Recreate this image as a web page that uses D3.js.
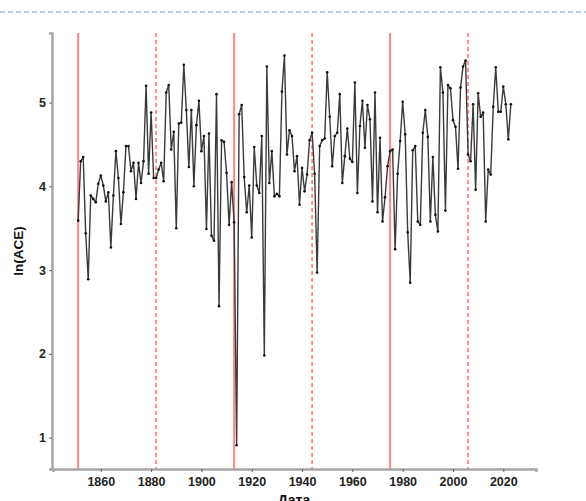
<!DOCTYPE html>
<html>
<head>
<meta charset="utf-8">
<script src="https://cdn.jsdelivr.net/npm/d3@7"></script>
<style>
  body { margin: 0; background: #fff; }
  text { font-family: "Liberation Sans", Arial, sans-serif; font-weight: bold; }
</style>
</head>
<body>
<div id="chart"></div>
<script>
// ln(ACE) per year
var years = d3.range(1851, 2024);
var lnAce = [
  3.59, 4.30, 4.35, 3.44, 2.89, 3.89, 3.85, 3.81, 4.03, 4.13, // 1851-1860
  4.01, 3.82, 3.93, 3.27, 3.89, 4.42, 4.10, 3.55, 3.93, 4.48, // 1861-1870
  4.48, 4.18, 4.28, 3.85, 4.28, 4.04, 4.30, 5.20, 4.15, 4.88, // 1871-1880
  4.10, 4.10, 4.20, 4.28, 4.06, 5.12, 5.21, 4.44, 4.65, 3.50, // 1881-1890
  4.75, 4.76, 5.45, 4.91, 4.23, 4.91, 4.00, 4.73, 5.02, 4.42, // 1891-1900
  4.60, 3.49, 4.63, 3.41, 3.35, 5.10, 2.57, 4.55, 4.53, 4.16, // 1901-1910
  3.54, 4.05, 3.57, 0.91, 4.86, 4.97, 4.11, 3.69, 4.01, 3.39, // 1911-1920
  4.47, 4.01, 3.92, 4.60, 1.98, 5.43, 4.04, 4.42, 3.88, 3.91, // 1921-1930
  3.88, 5.13, 5.56, 4.38, 4.67, 4.60, 4.18, 4.36, 3.78, 4.22, // 1931-1940
  3.94, 4.14, 4.55, 4.64, 4.15, 2.97, 4.48, 4.55, 4.57, 5.36, // 1941-1950
  4.83, 4.24, 4.60, 4.64, 5.10, 4.04, 4.36, 4.69, 4.33, 4.29, // 1951-1960
  5.24, 3.92, 4.72, 5.02, 4.46, 4.97, 4.80, 3.82, 5.12, 3.69, // 1961-1970
  4.58, 3.58, 3.87, 4.24, 4.42, 4.44, 3.25, 4.15, 4.54, 5.01, // 1971-1980
  4.62, 3.45, 2.85, 4.43, 4.48, 3.58, 3.54, 4.64, 4.91, 4.59, // 1981-1990
  3.58, 4.35, 3.66, 3.46, 5.42, 5.12, 3.71, 5.21, 5.17, 4.79, // 1991-2000
  4.71, 4.21, 5.18, 5.43, 5.50, 4.38, 4.30, 4.98, 3.96, 5.11, // 2001-2010
  4.83, 4.88, 3.58, 4.20, 4.14, 4.95, 5.42, 4.89, 4.89, 5.19, // 2011-2020
  4.98, 4.56, 4.98                                             // 2021-2023
];
// break years drawn as vertical lines
var solidBreaks = [1851, 1913, 1975];
var dashedBreaks = [1882, 1944, 2006];
var xTicks = [1860, 1880, 1900, 1920, 1940, 1960, 1980, 2000, 2020];
var yTicks = [1, 2, 3, 4, 5];

var w = 586, h = 501;
var svg = d3.select("#chart").append("svg").attr("width", w).attr("height", h);

// dashed rule across the top of the page
svg.append("line")
  .attr("x1", 0).attr("x2", w).attr("y1", 12).attr("y2", 12)
  .attr("stroke", "#a9bcd6").attr("stroke-width", 1.5)
  .attr("stroke-dasharray", "5,3");

var xScale = d3.scaleLinear().domain([1841, 2033]).range([53, 536]);
var yScale = d3.scaleLinear().domain([0.626, 5.83]).range([469, 33]);

// red break lines
svg.selectAll(".solid-break")
  .data(solidBreaks).enter().append("line")
  .attr("x1", function (d) { return xScale(d); })
  .attr("x2", function (d) { return xScale(d); })
  .attr("y1", yScale.range()[1]).attr("y2", yScale.range()[0])
  .attr("stroke", "#ff8585").attr("stroke-width", 2);

svg.selectAll(".dashed-break")
  .data(dashedBreaks).enter().append("line")
  .attr("x1", function (d) { return xScale(d); })
  .attr("x2", function (d) { return xScale(d); })
  .attr("y1", yScale.range()[1]).attr("y2", yScale.range()[0])
  .attr("stroke", "#ff8585").attr("stroke-width", 1.8)
  .attr("stroke-dasharray", "4,3");

// the series
var data = years.map(function (y, i) { return [y, lnAce[i]]; });
var line = d3.line()
  .x(function (d) { return xScale(d[0]); })
  .y(function (d) { return yScale(d[1]); });

svg.append("path")
  .datum(data)
  .attr("d", line)
  .attr("fill", "none")
  .attr("stroke", "#3a3a3a")
  .attr("stroke-width", 1.4)
  .attr("stroke-linejoin", "round");

svg.selectAll(".pt")
  .data(data).enter().append("circle")
  .attr("cx", function (d) { return xScale(d[0]); })
  .attr("cy", function (d) { return yScale(d[1]); })
  .attr("r", 1.3)
  .attr("fill", "#111");

// axes
var xAxis = svg.append("g")
  .attr("transform", "translate(0,469)")
  .call(d3.axisBottom(xScale).tickValues(xTicks).tickFormat(d3.format("d"))
    .tickSize(3).tickPadding(5));
var yAxis = svg.append("g")
  .attr("transform", "translate(52,0)")
  .call(d3.axisLeft(yScale).tickValues(yTicks).tickFormat(d3.format("d"))
    .tickSize(3).tickPadding(3));

[xAxis, yAxis].forEach(function (g) {
  g.select(".domain").attr("stroke", "#a6a6a6").attr("stroke-width", 2.5);
  g.selectAll(".tick line").attr("stroke", "#666");
  g.selectAll(".tick text")
    .attr("fill", "#222")
    .style("font-size", "12.5px")
    .style("font-weight", "bold")
    .style("font-family", "'Liberation Sans', Arial, sans-serif");
});

// axis titles
svg.append("text")
  .attr("transform", "translate(23,251) rotate(-90)")
  .attr("text-anchor", "middle")
  .attr("fill", "#111")
  .style("font-size", "13.5px")
  .text("ln(ACE)");

// title sits at the bottom edge, partly cut off as in the source
svg.append("text")
  .attr("x", 294).attr("y", 505)
  .attr("text-anchor", "middle")
  .attr("fill", "#111")
  .style("font-size", "14px")
  .text("Дата");
</script>
</body>
</html>
